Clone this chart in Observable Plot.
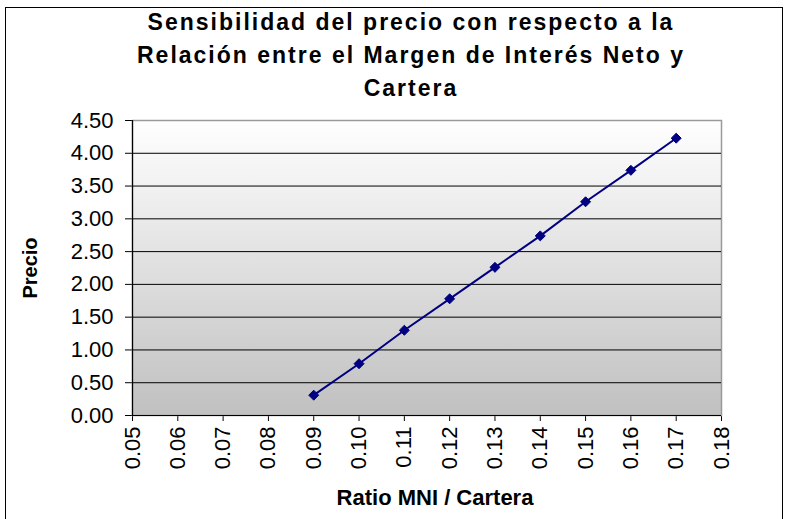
<!DOCTYPE html>
<html>
<head>
<meta charset="utf-8">
<script src="https://cdn.jsdelivr.net/npm/d3@7"></script>
<script src="https://cdn.jsdelivr.net/npm/@observablehq/plot@0.6"></script>
<style>
  html, body { margin: 0; padding: 0; background: #fff; }
  #wrap { position: relative; width: 787px; height: 519px; overflow: hidden; font-family: "Liberation Sans", Arial, sans-serif; }
  #border { position: absolute; left: 5px; top: 7px; width: 778px; height: 530px; border: 1.5px solid #000; box-sizing: border-box; }
  #title { position: relative; height: 105px; box-sizing: border-box; padding: 6px 0 0 35px; text-align: center; font-family: "Liberation Sans", Arial, sans-serif; font-weight: bold; font-size: 23px; letter-spacing: 2.0px; line-height: 33px; color: #000; }
  #chart { position: relative; }
</style>
</head>
<body>
<div id="wrap">
  <div id="border"></div>
  <div id="title"></div>
  <div id="chart"></div>
</div>
<script>
const titleLines = ["Sensibilidad del precio con respecto a la", "Relación entre el Margen de Interés Neto y", "Cartera"];
const xLabel = "Ratio MNI / Cartera";
const yLabel = "Precio";
const ratio = [0.09, 0.10, 0.11, 0.12, 0.13, 0.14, 0.15, 0.16, 0.17];
const precio = [0.31, 0.79, 1.30, 1.78, 2.26, 2.74, 3.26, 3.74, 4.23];
const xTicks = [0.05, 0.06, 0.07, 0.08, 0.09, 0.10, 0.11, 0.12, 0.13, 0.14, 0.15, 0.16, 0.17, 0.18];
const yTicks = [0, 0.5, 1.0, 1.5, 2.0, 2.5, 3.0, 3.5, 4.0, 4.5];

const titleEl = document.getElementById("title");
titleLines.forEach(t => { const d = document.createElement("div"); d.textContent = t; titleEl.appendChild(d); });

const data = ratio.map((r, i) => ({ratio: r, precio: precio[i]}));
const navy = "#000080";

const plot = Plot.plot({
  width: 787,
  height: 414,
  marginTop: 15,
  marginBottom: 104,
  marginLeft: 132,
  marginRight: 66,
  style: { fontFamily: "Liberation Sans, Arial, sans-serif", fontSize: "22px", color: "#000", background: "transparent", overflow: "visible" },
  x: { domain: [0.05, 0.18], ticks: xTicks, tickFormat: d => d.toFixed(2), tickRotate: -90, tickSize: 6, tickPadding: 5, label: null },
  y: { domain: [0, 4.5], ticks: yTicks, tickFormat: d => d.toFixed(2), tickSize: 7, tickPadding: 12, label: null },
  marks: [
    Plot.frame({ fill: "url(#bgGrad)", stroke: "#9a9a9a", strokeWidth: 1.5 }),
    Plot.ruleY(yTicks.filter(v => v > 0 && v < 4.5), { stroke: "#000", strokeWidth: 1 }),
    Plot.ruleX([0.05], { stroke: "#000", strokeWidth: 1.2 }),
    Plot.ruleY([0], { stroke: "#000", strokeWidth: 1.2 }),
    Plot.line(data, { x: "ratio", y: "precio", stroke: navy, strokeWidth: 2 }),
    Plot.dot(data, { x: "ratio", y: "precio", symbol: "diamond2", r: 4.5, fill: navy, stroke: navy, strokeWidth: 1 }),
    Plot.text([xLabel], { text: d => d, frameAnchor: "bottom", dy: 89, dx: 8, fontWeight: "bold", fontSize: 22, letterSpacing: 1.5 }),
    Plot.text([yLabel], { text: d => d, frameAnchor: "left", textAnchor: "middle", dx: -102, rotate: -90, fontWeight: "bold", fontSize: 20, letterSpacing: 0.5 })
  ]
});

d3.select(plot).insert("defs", ":first-child").html(
  '<linearGradient id="bgGrad" x1="0" y1="0" x2="0" y2="1">' +
  '<stop offset="0" stop-color="#ffffff"/>' +
  '<stop offset="1" stop-color="#c0c0c0"/>' +
  '</linearGradient>'
);

document.getElementById("chart").appendChild(plot);
</script>
</body>
</html>
